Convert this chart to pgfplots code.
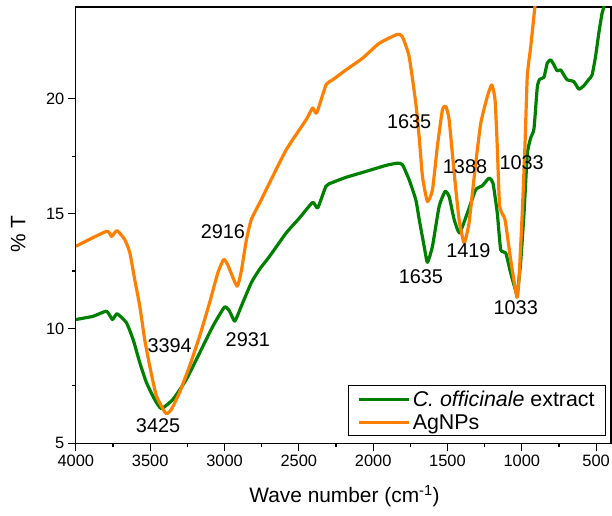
\documentclass[border=0pt]{standalone}
\usepackage{pgfplots}
\pgfplotsset{compat=1.18}
\usepackage{fontspec}
\setmainfont{Liberation Sans}
\definecolor{cgreen}{RGB}{0,128,0}
\definecolor{corange}{RGB}{255,127,0}
\begin{document}
\begin{tikzpicture}
\useasboundingbox (-76bp,-72bp) rectangle (537bp,444bp);
\begin{axis}[
  scale only axis, width=536bp, height=437bp,
  x dir=reverse, xmin=400, xmax=4000, ymin=5, ymax=24,
  xtick={500,1000,...,4000}, ytick={5,10,15,20},
  minor x tick num=1, minor y tick num=1,
  tick align=outside, xtick pos=left, ytick pos=left,
  major tick length=8bp, minor tick length=4bp,
  axis line style={line width=1.2bp},
  tick style={line width=1.2bp, black},
  tick label style={font=\fontsize{16.5}{18}\selectfont},
  /pgf/number format/assume math mode=true,
  /pgf/number format/1000 sep={},
  xlabel={Wave number (cm\textsuperscript{-1})}, ylabel={\% T},
  label style={font=\fontsize{21}{24}\selectfont},
  xlabel style={at={(axis description cs:0.502,-0.121)}, anchor=center},
  ylabel style={at={(axis description cs:-0.108,0.48)}, anchor=center},
  legend style={at={(rel axis cs:1,0)}, xshift=-5bp, yshift=7bp, anchor=south east,
    font=\fontsize{21.5}{24}\selectfont, draw=black, line width=0.8bp,
    inner xsep=9bp, inner ysep=3bp, row sep=3bp, cells={anchor=west}},
  legend image code/.code={\draw[#1] (0bp,0bp) -- (50bp,0bp);},
]
\addplot[cgreen, line width=3.2bp, line join=round, smooth, tension=0.3] table {
x y
4000 10.39
3884 10.53
3794 10.75
3754 10.39
3723 10.64
3660 10.25
3615 9.52
3570 8.51
3525 7.64
3470 6.91
3425 6.51
3347 6.91
3257 7.78
3167 8.94
3078 10.10
3000 10.93
2966 10.75
2931 10.32
2887 10.97
2820 11.99
2765 12.57
2697 13.14
2585 14.16
2496 14.81
2407 15.49
2373 15.25
2317 16.20
2272 16.36
2183 16.58
2048 16.84
1914 17.10
1836 17.20
1803 17.13
1758 16.48
1713 15.60
1690 14.74
1657 13.58
1635 12.88
1601 13.58
1556 15.32
1516 15.97
1489 15.75
1455 14.74
1419 14.16
1366 15.03
1310 16.04
1265 16.22
1220 16.55
1194 16.33
1165 15.03
1142 13.43
1108 13.29
1075 12.42
1033 11.55
1008 12.86
985 15.03
963 17.60
940 18.30
918 18.70
896 20.50
880 20.85
851 20.94
829 21.55
806 21.70
784 21.48
762 21.22
739 21.26
717 21.04
695 20.83
650 20.75
616 20.42
583 20.57
549 20.85
527 21.04
504 21.84
482 22.86
460 23.73
448 24.00
435 24.80
};
\addlegendentry{\textit{C. officinale} extract}
\addplot[corange, line width=3.2bp, line join=round, smooth, tension=0.3] table {
x y
4000 13.58
3794 14.23
3760 14.01
3723 14.26
3671 13.87
3637 13.30
3604 12.13
3570 10.97
3537 9.52
3503 8.36
3458 7.06
3394 6.30
3357 6.48
3302 7.22
3235 8.36
3167 9.67
3100 11.13
3045 12.42
3006 13.00
2979 12.78
2916 11.84
2887 12.50
2854 13.81
2820 14.74
2753 15.60
2720 16.04
2585 17.78
2451 19.09
2407 19.60
2380 19.38
2317 20.61
2272 20.83
2183 21.26
2071 21.77
1959 22.42
1836 22.81
1803 22.70
1758 21.84
1713 19.80
1690 18.30
1668 16.60
1635 15.53
1601 16.04
1568 17.93
1534 19.52
1511 19.67
1489 19.09
1455 16.77
1422 14.74
1388 13.73
1355 14.60
1310 17.20
1276 18.94
1232 20.10
1202 20.61
1180 19.96
1165 17.93
1149 15.32
1113 14.74
1075 13.00
1033 11.35
1019 12.13
997 15.03
979 17.93
963 21.00
940 22.27
912 24.00
895 25.00
};
\addlegendentry{AgNPs}
\begin{scope}[font=\fontsize{20}{22}\selectfont]
\node at (axis cs:3369,9.23) {3394};
\node at (axis cs:3447,5.78) {3425};
\node at (axis cs:3011,14.23) {2916};
\node at (axis cs:2843,9.53) {2931};
\node at (axis cs:1758,19.01) {1635};
\node at (axis cs:1382,17.03) {1388};
\node at (axis cs:1001,17.2) {1033};
\node at (axis cs:1359,13.39) {1419};
\node at (axis cs:1679,12.27) {1635};
\node at (axis cs:1041,10.9) {1033};
\end{scope}
\end{axis}
\end{tikzpicture}
\end{document}
